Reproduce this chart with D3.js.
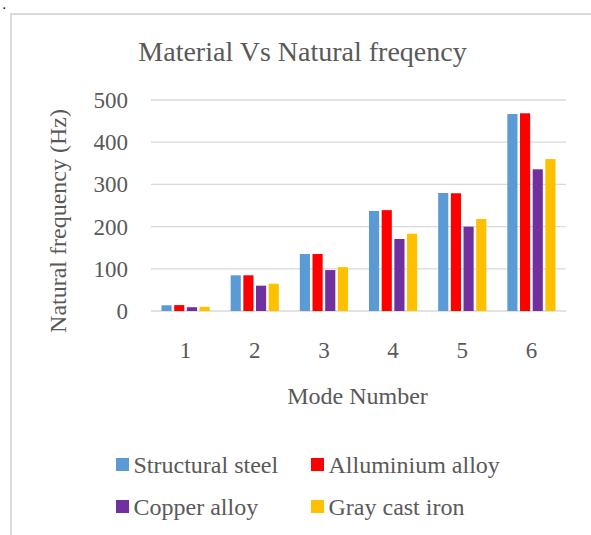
<!DOCTYPE html>
<html>
<head>
<meta charset="utf-8">
<script src="https://cdn.jsdelivr.net/npm/d3@7"></script>
<style>
  html, body { margin: 0; padding: 0; background: #fff; }
  svg text { font-family: "Liberation Serif", "DejaVu Serif", serif; fill: #595959; }
</style>
</head>
<body>
<div id="chart"></div>
<script>
const width = 591;
const height = 535;

const modes = ['1', '2', '3', '4', '5', '6'];
const materials = ['Structural steel', 'Alluminium alloy', 'Copper alloy', 'Gray cast iron'];
const colors = ['#5B9BD5', '#FF0000', '#7030A0', '#FFC000'];

const structuralSteel = [13.5, 84.6, 135, 237, 279.6, 466.8];
const alluminiumAlloy = [14, 84.6, 135, 239, 279, 468.5];
const copperAlloy = [9, 60, 97, 170.6, 199.8, 335.8];
const grayCastIron = [10, 64.7, 104, 183, 218, 360];
const series = [structuralSteel, alluminiumAlloy, copperAlloy, grayCastIron];

const yTicks = [0, 100, 200, 300, 400, 500];

const svg = d3.select('#chart')
    .append('svg')
        .attr('width', width)
        .attr('height', height)
        .attr('font-family', '"Liberation Serif", serif');

// frame
svg.append('line').attr('x1', 11).attr('x2', 11).attr('y1', 13).attr('y2', height)
    .attr('stroke', '#d9d9d9').attr('stroke-width', 2);
svg.append('line').attr('x1', 10).attr('x2', width).attr('y1', 14).attr('y2', 14)
    .attr('stroke', '#d9d9d9').attr('stroke-width', 2);
svg.append('text').attr('x', 3).attr('y', 9)
    .style('font-size', '10px').style('font-weight', 'bold').style('fill', '#000').text('.');

const x = d3.scaleBand().domain(modes).range([151, 566]);
const xInner = d3.scaleBand().domain(materials).range([10.5, x.bandwidth() - 10.5]).paddingInner(0.2);
const y = d3.scaleLinear().domain([0, 500]).range([311, 100]);

// grid
svg.append('g')
    .selectAll('line')
    .data(yTicks)
    .enter()
    .append('line')
        .attr('x1', 151).attr('x2', 566)
        .attr('y1', d => y(d)).attr('y2', d => y(d))
        .attr('stroke', '#d9d9d9').attr('stroke-width', 1.3);

// y labels
svg.append('g')
    .selectAll('text')
    .data(yTicks)
    .enter()
    .append('text')
        .attr('x', 128)
        .attr('y', d => y(d) + 8)
        .attr('text-anchor', 'end')
        .style('font-size', '23px')
        .text(d => d);

// x labels
svg.append('g')
    .selectAll('text')
    .data(modes)
    .enter()
    .append('text')
        .attr('x', d => x(d) + x.bandwidth() / 2)
        .attr('y', 358)
        .attr('text-anchor', 'middle')
        .style('font-size', '23px')
        .text(d => d);

// bars
series.forEach((vals, i) => {
    svg.append('g')
        .attr('fill', colors[i])
        .selectAll('rect')
        .data(vals)
        .enter()
        .append('rect')
            .attr('x', (d, j) => x(modes[j]) + xInner(materials[i]))
            .attr('width', xInner.bandwidth())
            .attr('y', d => y(d))
            .attr('height', d => y(0) - y(d));
});

// titles
svg.append('text')
    .attr('x', 302.5).attr('y', 61)
    .attr('text-anchor', 'middle')
    .style('font-size', '28px')
    .text('Material Vs Natural freqency');

svg.append('text')
    .attr('transform', 'translate(66,221) rotate(-90)')
    .attr('text-anchor', 'middle')
    .style('font-size', '24px')
    .text('Natural frequency (Hz)');

svg.append('text')
    .attr('x', 357.5).attr('y', 404)
    .attr('text-anchor', 'middle')
    .style('font-size', '24px')
    .text('Mode Number');

// legend
const legendPos = [[116, 458], [311, 458], [116, 500], [311, 500]];
const legend = svg.append('g')
    .selectAll('g')
    .data(materials)
    .enter()
    .append('g')
        .attr('transform', (d, i) => `translate(${legendPos[i][0]},${legendPos[i][1]})`);

legend.append('rect')
    .attr('width', 13).attr('height', 13)
    .attr('fill', (d, i) => colors[i]);

legend.append('text')
    .attr('x', 17.5).attr('y', 15)
    .style('font-size', '24px')
    .text(d => d);
</script>
</body>
</html>
